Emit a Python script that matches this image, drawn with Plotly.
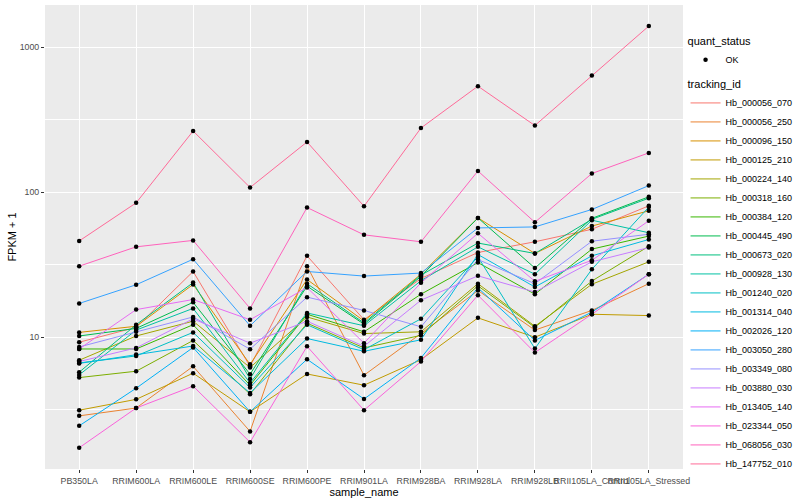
import math
import plotly.graph_objects as go

categories = ["PB350LA", "RRIM600LA", "RRIM600LE", "RRIM600SE", "RRIM600PE", "RRIM901LA",
              "RRIM928BA", "RRIM928LA", "RRIM928LB", "RRII105LA_Control", "RRII105LA_Stressed"]

tracking_ids = ["Hb_000056_070", "Hb_000056_250", "Hb_000096_150", "Hb_000125_210", "Hb_000224_140",
                "Hb_000318_160", "Hb_000384_120", "Hb_000445_490", "Hb_000673_020", "Hb_000928_130",
                "Hb_001240_020", "Hb_001314_040", "Hb_002026_120", "Hb_003050_280", "Hb_003349_080",
                "Hb_003880_030", "Hb_013405_140", "Hb_023344_050", "Hb_068056_030", "Hb_147752_010"]

# FPKM + 1 values, one list per tracking_id (order of categories)
hb_000056_070 = [9.24, 11.7, 28.4, 6.3, 36.4, 13.2, 25.4, 38.4, 45.5, 55.5, 80.5]
hb_000056_250 = [2.87, 3.25, 6.3, 2.24, 30.9, 5.47, 10.6, 21.0, 11.2, 15.3, 23.4]
hb_000096_150 = [10.8, 11.9, 23.1, 6.5, 25.0, 12.95, 27.2, 66.5, 37.8, 58.4, 74.4]
hb_000125_210 = [3.14, 3.73, 5.65, 3.06, 5.58, 4.67, 7.0, 13.6, 10.0, 14.4, 14.1]
hb_000224_140 = [6.94, 10.2, 12.9, 6.18, 13.8, 10.6, 10.9, 23.4, 11.9, 23.2, 33.1]
hb_000318_160 = [5.27, 5.83, 9.5, 4.05, 12.5, 8.44, 10.3, 22.6, 11.7, 24.4, 42.4]
hb_000384_120 = [8.3, 8.3, 12.2, 4.67, 14.4, 10.9, 19.8, 32.7, 19.8, 40.5, 49.8]
hb_000445_490 = [10.2, 11.5, 17.4, 5.56, 22.5, 12.3, 26.3, 66.5, 30.0, 66.0, 92.9]
hb_000673_020 = [5.74, 12.2, 23.8, 5.16, 23.4, 12.55, 26.8, 44.6, 37.8, 65.0, 90.9]
hb_000928_130 = [5.5, 11.2, 15.8, 4.84, 14.7, 12.0, 24.5, 42.0, 27.2, 64.1, 52.5]
hb_001240_020 = [6.65, 7.43, 10.8, 4.5, 12.2, 8.2, 13.4, 35.8, 8.35, 29.4, 79.0]
hb_001314_040 = [6.6, 7.6, 8.7, 4.13, 9.8, 8.0, 9.6, 37.2, 22.2, 36.4, 47.2]
hb_002026_120 = [2.45, 4.45, 8.5, 3.06, 7.05, 3.75, 7.2, 21.9, 9.5, 14.9, 27.2]
hb_003050_280 = [17.1, 23.0, 34.5, 12.0, 28.4, 26.4, 27.7, 56.7, 57.6, 76.0, 111.0]
hb_003349_080 = [8.57, 10.9, 13.8, 8.27, 18.9, 15.3, 11.8, 34.3, 23.4, 45.9, 51.3]
hb_003880_030 = [6.8, 8.44, 13.4, 9.1, 12.9, 8.66, 18.0, 26.5, 20.5, 33.1, 41.5]
hb_013405_140 = [8.3, 15.5, 18.2, 13.2, 22.0, 9.1, 23.7, 52.1, 24.3, 33.9, 63.5]
hb_023344_050 = [1.73, 3.25, 4.6, 1.89, 8.66, 3.14, 6.8, 19.5, 7.84, 14.4, 27.2]
hb_068056_030 = [30.9, 42.0, 46.5, 15.8, 78.4, 50.8, 45.5, 140.0, 62.0, 134.5, 186.6]
hb_147752_010 = [46.1, 84.4, 264.0, 107.7, 222.0, 80.0, 277.0, 538.0, 288.0, 638.0, 1397.0]

series_values = [hb_000056_070, hb_000056_250, hb_000096_150, hb_000125_210, hb_000224_140,
                 hb_000318_160, hb_000384_120, hb_000445_490, hb_000673_020, hb_000928_130,
                 hb_001240_020, hb_001314_040, hb_002026_120, hb_003050_280, hb_003349_080,
                 hb_003880_030, hb_013405_140, hb_023344_050, hb_068056_030, hb_147752_010]


def hcl_to_hex(h, c=100.0, l=65.0):
    hr = math.radians(h)
    u = c * math.cos(hr)
    v = c * math.sin(hr)
    Xn, Yn, Zn = 95.047, 100.0, 108.883
    un = 4 * Xn / (Xn + 15 * Yn + 3 * Zn)
    vn = 9 * Yn / (Xn + 15 * Yn + 3 * Zn)
    Y = Yn * ((l + 16) / 116) ** 3 if l > 8 else Yn * l / 903.3
    up = u / (13 * l) + un
    vp = v / (13 * l) + vn
    X = Y * 9 * up / (4 * vp)
    Z = Y * (12 - 3 * up - 20 * vp) / (4 * vp)
    X, Y, Z = X / 100, Y / 100, Z / 100
    r = 3.2404542 * X - 1.5371385 * Y - 0.4985314 * Z
    g = -0.9692660 * X + 1.8760108 * Y + 0.0415560 * Z
    b = 0.0556434 * X - 0.2040259 * Y + 1.0572252 * Z

    def gam(t):
        t = 12.92 * t if t <= 0.0031308 else 1.055 * t ** (1 / 2.4) - 0.055
        return max(0, min(255, round(t * 255)))
    return "#%02X%02X%02X" % (gam(r), gam(g), gam(b))


n = len(tracking_ids)
colors = [hcl_to_hex(15 + 360 * i / n) for i in range(n)]

fig = go.Figure()
for name, vals, col in zip(tracking_ids, series_values, colors):
    fig.add_trace(go.Scatter(x=categories, y=vals, mode="lines", name=name,
                             line=dict(color=col, width=1), legend="legend2"))

all_x = [c for vals in series_values for c in categories]
all_y = [v for vals in series_values for v in vals]
fig.add_trace(go.Scatter(x=all_x, y=all_y, mode="markers", name="OK",
                         marker=dict(color="black", size=4.5), legend="legend"))

font = "Liberation Sans, Arial, sans-serif"
fig.update_layout(
    width=800, height=500,
    margin=dict(l=45, r=117, t=5, b=31, autoexpand=False),
    paper_bgcolor="white", plot_bgcolor="#EBEBEB",
    font=dict(family=font, color="black"),
    showlegend=True,
    legend=dict(title=dict(text="quant_status", font=dict(size=11)), font=dict(size=9),
                x=1.004, xanchor="left", y=0.944, yanchor="top", bgcolor="rgba(0,0,0,0)"),
    legend2=dict(title=dict(text="tracking_id", font=dict(size=11)), font=dict(size=9),
                 x=1.004, xanchor="left", y=0.851, yanchor="top", bgcolor="rgba(0,0,0,0)",
                 tracegroupgap=0),
    xaxis=dict(type="category", categoryorder="array", categoryarray=categories,
               range=[-0.6, len(categories) - 0.4], showgrid=True, gridcolor="white", gridwidth=1.1,
               zeroline=False, showline=False, ticks="outside", ticklen=3, tickcolor="#333333",
               tickangle=0, tickfont=dict(size=8.8, color="#4D4D4D"),
               title=dict(text="sample_name", font=dict(size=11), standoff=1)),
    yaxis=dict(type="log", range=[0.0916, 3.2904], tickvals=[10, 100, 1000], ticktext=["10", "100", "1000"],
               showgrid=True, gridcolor="white", gridwidth=1.1, zeroline=False, showline=False,
               ticks="outside", ticklen=3, tickcolor="#333333", tickfont=dict(size=8.8, color="#4D4D4D"),
               minor=dict(tickvals=[10 ** 0.5, 10 ** 1.5, 10 ** 2.5], showgrid=True, gridcolor="white",
                          gridwidth=0.55, ticks=""),
               title=dict(text="FPKM + 1", font=dict(size=11), standoff=0)),
)

fig.write_html("out.html", config={"displayModeBar": False},
               post_script="document.body.style.margin='0px';")
